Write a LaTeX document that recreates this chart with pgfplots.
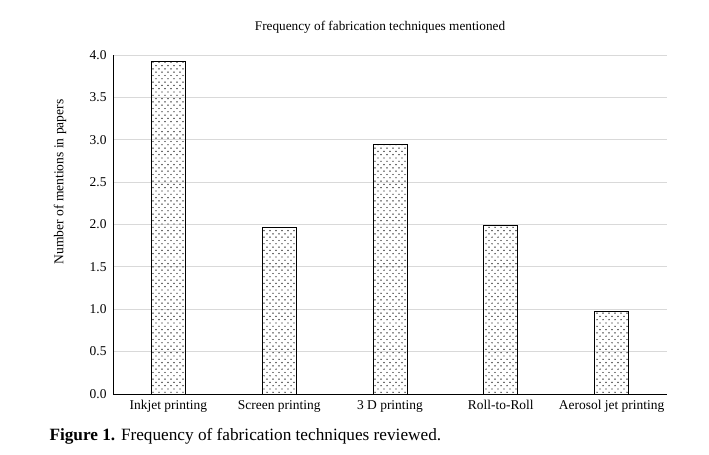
\documentclass[border=0pt]{standalone}
\usepackage{pgfplots}
\pgfplotsset{compat=1.18}
\usepackage{fontspec}
\setmainfont{Liberation Serif}
\usetikzlibrary{patterns}
\pgfdeclarepatternformonly{sparsedots}{\pgfqpoint{-1bp}{-1bp}}{\pgfqpoint{7bp}{7.6bp}}{\pgfqpoint{6bp}{6.6bp}}{%
  \pgfpathcircle{\pgfqpoint{0bp}{0bp}}{0.7bp}
  \pgfpathcircle{\pgfqpoint{3bp}{3.3bp}}{0.7bp}
  \pgfusepath{fill}}
\definecolor{gridgray}{RGB}{217,217,217}
\begin{document}
\begin{tikzpicture}[x=1bp,y=1bp]
\useasboundingbox (0,0) rectangle (709,455);
\begin{axis}[
  at={(113bp,61bp)}, anchor=south west,
  scale only axis, width=554bp, height=339bp,
  xmin=-0.5, xmax=4.5, ymin=0, ymax=4,
  axis x line=bottom, axis y line=left,
  axis line style={black, -, line width=0.8pt},
  xtick=data,
  xticklabels={Inkjet printing, Screen printing, 3 D printing, Roll-to-Roll, Aerosol jet printing},
  ytick={0,0.5,...,4},
  yticklabel style={/pgf/number format/fixed, /pgf/number format/fixed zerofill, /pgf/number format/precision=1},
  /pgf/number format/assume math mode=true,
  major tick length=0pt,
  ymajorgrids, grid style={gridgray, line width=0.9pt},
  tick label style={font=\fontsize{13.5}{15}\selectfont},
  xticklabel style={yshift=-3bp},
  yticklabel style={xshift=-3bp},
  clip=false,
]
\addplot[ybar, bar width=34bp, draw=black, line width=0.8pt, pattern=sparsedots, pattern color=black]
 coordinates {(0,3.93) (1,1.97) (2,2.94) (3,1.99) (4,0.97)};
\end{axis}
\node[font=\fontsize{13.3}{15}\selectfont] at (380,428) {Frequency of fabrication techniques mentioned};
\node[font=\fontsize{13.6}{15}\selectfont, rotate=90] at (60,273) {Number of mentions in papers};
\node[font=\fontsize{17.3}{19}\selectfont, anchor=west] at (46,19) {\textbf{Figure 1.} Frequency of fabrication techniques reviewed.};
\end{tikzpicture}
\end{document}
